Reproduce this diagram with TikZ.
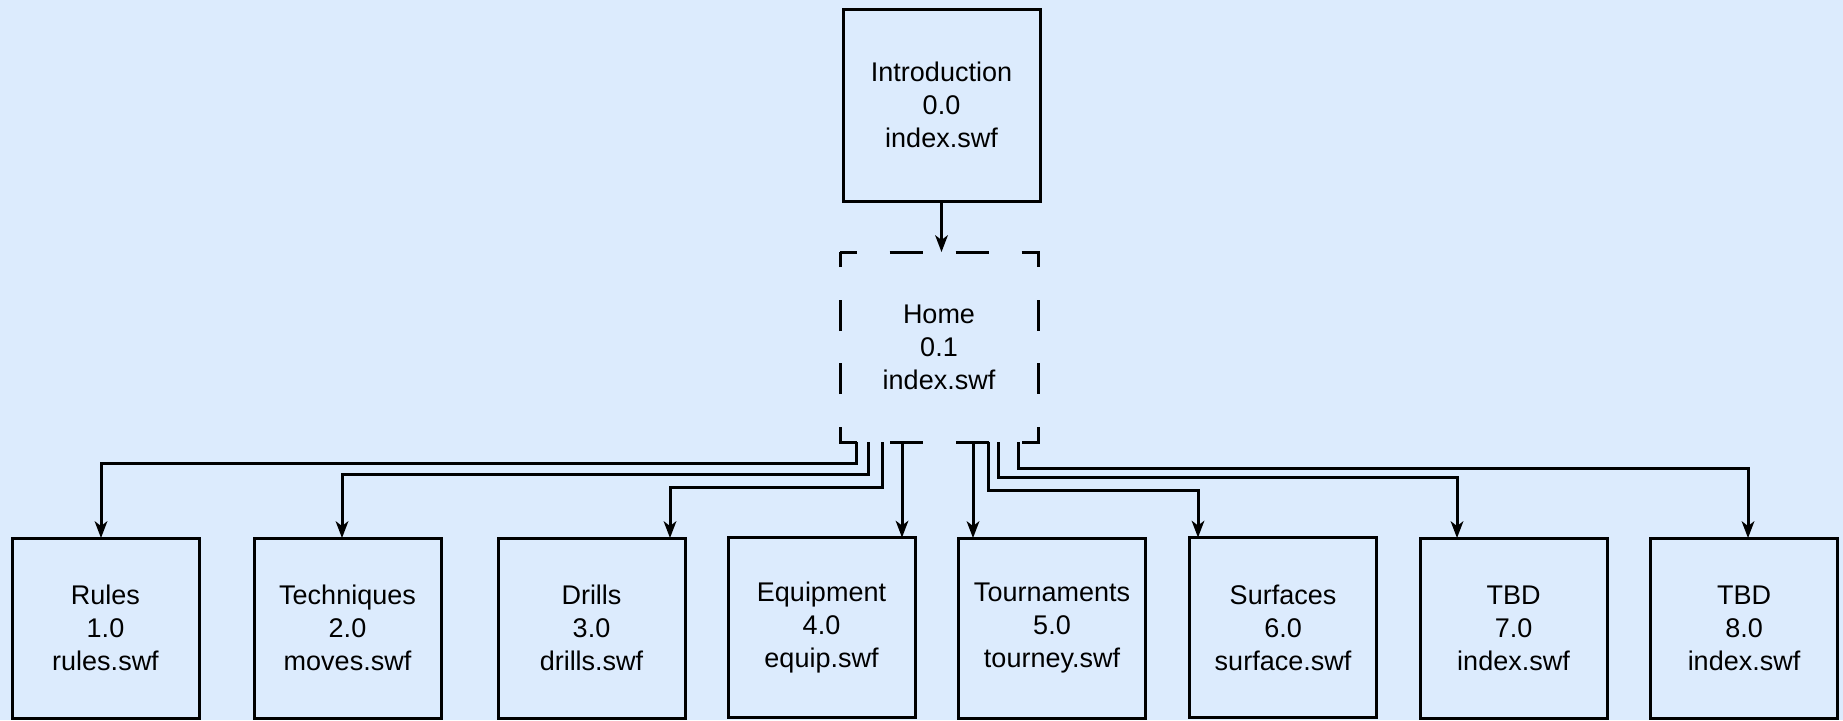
\documentclass[tikz,border=0pt]{standalone}
\usepackage{fontspec}
\setmainfont{Liberation Sans}
\usetikzlibrary{arrows.meta}
\definecolor{pagebg}{RGB}{220,235,253}
\tikzset{pagebox/.style = {draw, line width=3pt, fill=pagebg, inner sep=0pt, outer sep=0pt,
                           minimum width=187pt, minimum height=180pt, align=center,
                           font=\fontsize{27}{33}\selectfont},
         topbox/.style  = {pagebox, minimum width=197pt, minimum height=192pt},
         homebox/.style = {pagebox, draw=none, minimum width=198pt, minimum height=190pt},
         homedash/.style = {line width=3pt,
                            dash pattern=on 16.5pt off 33pt on 33pt off 33pt on 33pt off 33pt
                                         on 31.5pt off 33pt on 31pt off 32pt on 31pt off 33pt
                                         on 31.5pt off 33pt on 33pt off 33pt on 33pt off 33pt
                                         on 31.5pt off 33pt on 31pt off 32pt on 31pt off 33pt
                                         on 15pt off 1pt},
         link/.style = {line width=3pt,
                        -{Stealth[length=17pt, width=13pt, inset=5pt, line width=0pt]}}}

\begin{document}
\begin{tikzpicture}[x=1pt, y=-1pt]
      \useasboundingbox (0, 0) rectangle (1843, 720);
      \fill [pagebg] (0, 0) rectangle (1843, 720);

      \node [topbox] (intro) at (941.5, 105) {Introduction\\0.0\\index.swf};
      \node [homebox] (home) at (939, 347) {Home\\0.1\\index.swf};
      \draw [homedash] (home.north west) -- (home.north east) -- (home.south east)
                       -- (home.south west) -- cycle;

      \node [pagebox] (rules) at (105.5, 628) {Rules\\1.0\\rules.swf};
      \node [pagebox] (techniques) at (347.5, 628) {Techniques\\2.0\\moves.swf};
      \node [pagebox] (drills) at (591.5, 628) {Drills\\3.0\\drills.swf};
      \node [pagebox] (equipment) at (821.5, 627.5) {Equipment\\4.0\\equip.swf};
      \node [pagebox] (tournaments) at (1052, 628) {Tournaments\\5.0\\tourney.swf};
      \node [pagebox] (surfaces) at (1283, 627.5) {Surfaces\\6.0\\surface.swf};
      \node [pagebox] (tbdseven) at (1513.5, 628) {TBD\\7.0\\index.swf};
      \node [pagebox] (tbdeight) at (1744, 628) {TBD\\8.0\\index.swf};

      \draw [link] (intro.south) -- (intro.south |- home.north);

      \draw [link] ([xshift=16pt]home.south west) -- ++(0, 21) -| ([xshift=-4.5pt]rules.north);
      \draw [link] ([xshift=28pt]home.south west) -- ++(0, 32) -| ([xshift=-5.5pt]techniques.north);
      \draw [link] ([xshift=42pt]home.south west) -- ++(0, 45) -| ([xshift=78.5pt]drills.north);
      \draw [link] ([xshift=62pt]home.south west) -- ([xshift=80.5pt]equipment.north);
      \draw [link] ([xshift=133pt]home.south west) -- ([xshift=-79pt]tournaments.north);
      \draw [link] ([xshift=148pt]home.south west) -- ++(0, 48) -| ([xshift=-85pt]surfaces.north);
      \draw [link] ([xshift=158pt]home.south west) -- ++(0, 35) -| ([xshift=-56.5pt]tbdseven.north);
      \draw [link] ([xshift=178pt]home.south west) -- ++(0, 26) -| ([xshift=4pt]tbdeight.north);
    \end{tikzpicture}
\end{document}
